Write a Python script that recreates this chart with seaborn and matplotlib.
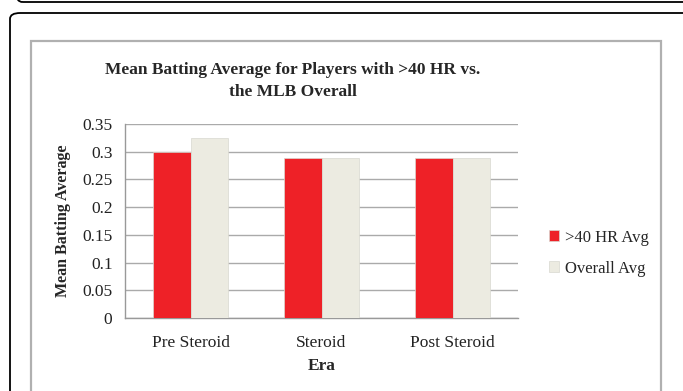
import numpy as np
import pandas as pd
import matplotlib
matplotlib.use('Agg')
import matplotlib.pyplot as plt
import seaborn as sns
from matplotlib.patches import FancyBboxPatch, Rectangle

eras = ['Pre Steroid', 'Steroid', 'Post Steroid']
hr40_avg = [0.300, 0.289, 0.289]
overall_avg = [0.325, 0.289, 0.288]
series_names = ['>40 HR Avg', 'Overall Avg']
y_ticks = [0, 0.05, 0.1, 0.15, 0.2, 0.25, 0.3, 0.35]
y_tick_labels = ['0', '0.05', '0.1', '0.15', '0.2', '0.25', '0.3', '0.35']

df = pd.DataFrame({
    'Era': eras * 2,
    'Series': [series_names[0]] * 3 + [series_names[1]] * 3,
    'Value': hr40_avg + overall_avg,
})

sns.set_style('white')
plt.rcParams['font.family'] = ['Liberation Serif', 'DejaVu Serif']

W, H = 683, 391
fig = plt.figure(figsize=(W / 100, H / 100), dpi=100)

def fx(px):
    return px / W

def fy(py):
    return 1 - py / H

# page frames
fig.patches.append(FancyBboxPatch((fx(12), fy(2)), fx(700), fy(-40) - fy(2),
                                  boxstyle='round,pad=0,rounding_size=0.015',
                                  transform=fig.transFigure, fill=False,
                                  edgecolor='black', lw=1.3, zorder=0))
fig.patches.append(FancyBboxPatch((fx(10), fy(420)), fx(700), fy(13) - fy(420),
                                  boxstyle='round,pad=0,rounding_size=0.015',
                                  transform=fig.transFigure, fill=False,
                                  edgecolor='black', lw=1.3, zorder=0))
fig.patches.append(Rectangle((fx(31), fy(420)), fx(661) - fx(31), fy(41) - fy(420),
                             transform=fig.transFigure, fill=False,
                             edgecolor='#b0b0b0', lw=1.6, zorder=0))

ax = fig.add_axes([fx(125), fy(318), fx(518) - fx(125), fy(124) - fy(318)])
sns.barplot(data=df, x='Era', y='Value', hue='Series',
            palette=['#ee2127', '#ecebe1'], width=0.58, saturation=1,
            edgecolor='#d8d8d0', linewidth=0.5, ax=ax, zorder=3)

ax.set_xlim(-0.5, 2.5)
ax.set_ylim(0, 0.35)
ax.set_yticks(y_ticks)
ax.set_yticklabels(y_tick_labels, fontsize=12.5, color='#222222')
ax.set_xticks(range(3))
ax.set_xticklabels(eras, fontsize=12.5, color='#222222')
ax.set_xticks([-0.5, 0.5, 1.5, 2.5], minor=True)
ax.tick_params(axis='x', which='major', length=0, pad=12)
ax.tick_params(axis='x', which='minor', length=5, color='#999999', width=1)
ax.tick_params(axis='y', length=5, color='#999999', width=1, pad=4)
ax.grid(axis='y', color='#aaaaaa', lw=1, zorder=0)
ax.set_axisbelow(True)
for s in ['top', 'right']:
    ax.spines[s].set_visible(False)
for s in ['left', 'bottom']:
    ax.spines[s].set_color('#999999')
    ax.spines[s].set_linewidth(1)

ax.set_xlabel('Era', fontsize=12.5, fontweight='bold', labelpad=5)
ax.set_ylabel('Mean Batting Average', fontsize=11.5, fontweight='bold', labelpad=8)

leg = ax.legend(loc='center left', bbox_to_anchor=(1.04, 0.335), frameon=False,
                fontsize=12, handlelength=0.6, handleheight=0.6,
                handletextpad=0.4, labelspacing=0.9)

fig.text(fx(293), fy(81), 'Mean Batting Average for Players with >40 HR vs.\nthe MLB Overall',
         ha='center', va='center', fontsize=12.5, fontweight='bold',
         linespacing=1.45)

fig.savefig('out.png', dpi=100)
